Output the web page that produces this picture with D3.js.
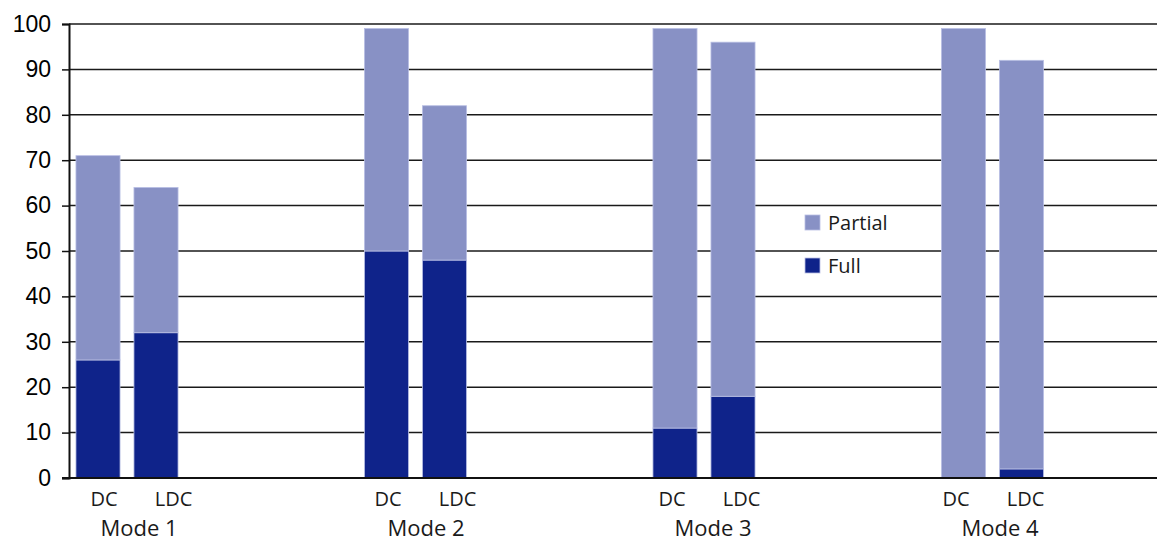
<!DOCTYPE html>
<html>
<head>
<meta charset="utf-8">
<script src="https://cdn.jsdelivr.net/npm/d3@7"></script>
<style>
  html, body { margin: 0; padding: 0; background: #fff; }
  svg { display: block; }
</style>
</head>
<body>
<svg id="chart" width="1157" height="542"></svg>
<script>
// ---- Data ----
const modes = ["Mode 1", "Mode 2", "Mode 3", "Mode 4"];
const subs = ["DC", "LDC"];
const fullValues    = [26, 32, 50, 48, 11, 18, 0, 2];   // per mode: DC, LDC
const partialValues = [45, 32, 49, 34, 88, 78, 99, 90]; // stacked on top of Full
const seriesNames = ["Partial", "Full"];
const yTicks = [0, 10, 20, 30, 40, 50, 60, 70, 80, 90, 100];

const colors = { Partial: "#8891c5", Full: "#0f238a" };

// ---- Build rows ----
const rows = [];
modes.forEach((m, i) => subs.forEach((s, j) => {
  const k = i * 2 + j;
  rows.push({ mode: m, sub: s, Full: fullValues[k], Partial: partialValues[k] });
}));

const W = 1157, H = 542;
const svg = d3.select("#chart");

const x0 = d3.scaleBand().domain(modes).range([69, 69 + 4 * 288.5]);
const x1 = d3.scaleBand().domain(subs).range([0, 116]).paddingInner(0.24).paddingOuter(0.12);
const y = d3.scaleLinear().domain([0, 100]).range([478, 24]);
// label placement scales (category labels are spaced slightly tighter than bars)
const xSubLab = d3.scaleBand().domain(modes).range([69, 69 + 4 * 284]);
const xSubOff = d3.scalePoint().domain(subs).range([35, 104.5]);
const xModeLab = d3.scaleBand().domain(modes).range([69, 69 + 4 * 287]);

// gridlines
svg.append("g").selectAll("line").data(yTicks).join("line")
  .attr("x1", 69).attr("x2", W)
  .attr("y1", d => y(d)).attr("y2", d => y(d))
  .attr("stroke", "#1a1a1a").attr("stroke-width", 1.5);

// stacked bars
const stack = d3.stack().keys(["Full", "Partial"]);
const stacked = stack(rows);
svg.append("g").selectAll("g").data(stacked).join("g")
  .attr("fill", d => colors[d.key])
  .selectAll("rect").data(d => d).join("rect")
  .attr("x", d => x0(d.data.mode) + x1(d.data.sub))
  .attr("width", x1.bandwidth())
  .attr("y", d => y(d[1]))
  .attr("height", d => Math.max(0, y(d[0]) - y(d[1])))
  .attr("stroke", "#b9bfe4").attr("stroke-width", 0.8);

// y axis
const yAxis = d3.axisLeft(y).tickValues(yTicks).tickSize(7).tickPadding(11);
const gy = svg.append("g").attr("transform", "translate(69,0)").call(yAxis);
gy.select(".domain").attr("stroke", "#111").attr("stroke-width", 2);
gy.selectAll(".tick line").attr("stroke", "#111").attr("stroke-width", 1.5);
gy.selectAll(".tick text")
  .attr("font-family", "'Liberation Sans', Arial, sans-serif")
  .attr("font-size", 23).attr("fill", "#000");

// baseline
svg.append("line").attr("x1", 62).attr("x2", W).attr("y1", y(0)).attr("y2", y(0))
  .attr("stroke", "#111").attr("stroke-width", 2);

// sub labels
const labelFont = "'Open Sans', 'Noto Sans', sans-serif";
svg.append("g").selectAll("text").data(rows).join("text")
  .attr("x", d => xSubLab(d.mode) + xSubOff(d.sub))
  .attr("y", 506)
  .attr("text-anchor", "middle")
  .attr("font-family", labelFont).attr("font-size", 20)
  .attr("fill", "#1a1a1a")
  .text(d => d.sub);

// mode labels
svg.append("g").selectAll("text").data(modes).join("text")
  .attr("x", d => xModeLab(d) + 70)
  .attr("y", 536)
  .attr("text-anchor", "middle")
  .attr("font-family", labelFont).attr("font-size", 22)
  .attr("fill", "#1a1a1a")
  .text(d => d);

// legend
const lg = svg.append("g").attr("transform", "translate(805,215)");
seriesNames.forEach((n, i) => {
  const g = lg.append("g").attr("transform", `translate(0,${i * 43})`);
  g.append("rect").attr("width", 15).attr("height", 15).attr("fill", colors[n])
    .attr("stroke", "#b9bfe4").attr("stroke-width", 0.8);
  g.append("text").attr("x", 23).attr("y", 7.5).attr("dy", "0.36em")
    .attr("font-family", labelFont).attr("font-size", 20).attr("fill", "#1a1a1a")
    .text(n);
});
</script>
</body>
</html>
